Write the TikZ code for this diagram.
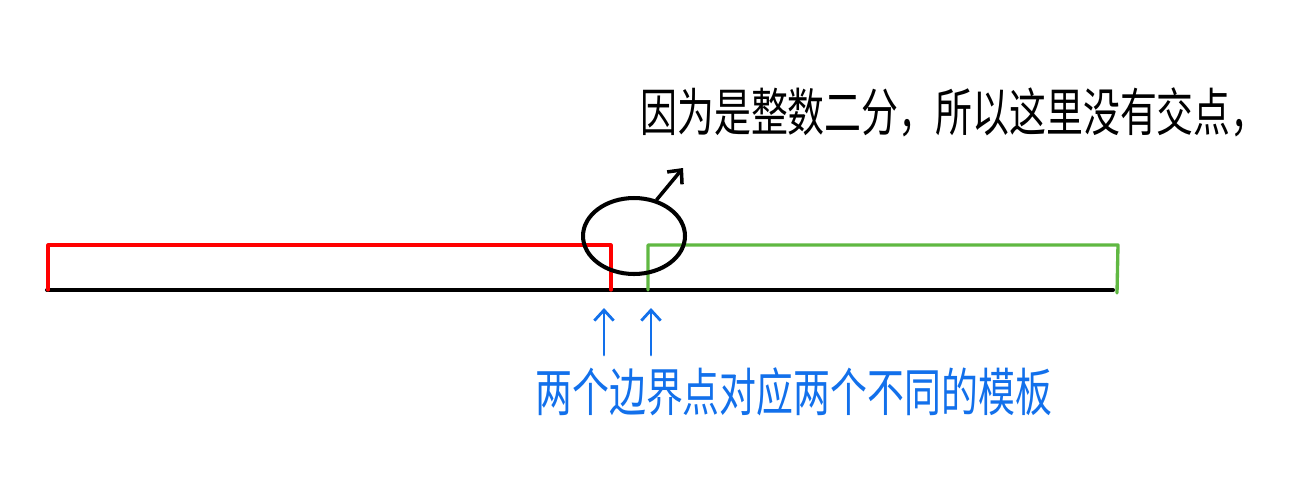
\documentclass[tikz,border=0pt]{standalone}
\usepackage{fontspec}
\newfontfamily\cjk{Noto Sans CJK SC}
\usetikzlibrary{shapes.geometric,arrows.meta}
\definecolor{mygreen}{RGB}{96,184,66}
\definecolor{myblue}{RGB}{18,112,235}
\newcommand{\tallnote}[1]{\scalebox{1}[1.4]{#1}}
\begin{document}
\begin{tikzpicture}[x=0.02cm,y=-0.02cm,line cap=round,line join=round,
  >={Straight Barb[length=6pt,width=11pt]},
  lowbox/.style={line width=1.8pt,red},
  highbox/.style={line width=1.9pt,mygreen},
  pointer/.style={->,line width=1.6pt,myblue},
  note/.style={font=\cjk\fontsize{21pt}{24pt}\selectfont,inner sep=0pt}]
\useasboundingbox (0,0) rectangle (1302,495);
%%% the number line
\coordinate (lineL) at (47,290);
\coordinate (lineR) at (1113,290);
\draw[line width=2.3pt] (lineL) -- (lineR);
%%% left template (red)
\draw[lowbox] (48,290) -- (48,245) -- (611,245) -- (611,290);
%%% right template (green)
\draw[highbox] (648,290) -- (648,245) -- (1118,245) -- (1117,293);
%%% the gap between the two templates
\node[draw,ellipse,line width=2.3pt,minimum width=2.04cm,minimum height=1.52cm,inner sep=0pt] (gap) at (634,236) {};
\coordinate (gapTip) at (683,168);
\draw[->,line width=2pt] (gap.58) -- (gapTip);
\node[note,anchor=west] (why) at (640,112) {\tallnote{因为是整数二分，所以这里没有交点，}};
%%% the two boundary points
\coordinate (redFoot) at (604,355);
\coordinate (redHead) at (604,308);
\coordinate (greenFoot) at (651,355);
\coordinate (greenHead) at (651,308);
\draw[pointer] (redFoot) -- (redHead);
\draw[pointer] (greenFoot) -- (greenHead);
\node[note,myblue,anchor=west] (two) at (535,392) {\tallnote{两个边界点对应两个不同的模板}};
\end{tikzpicture}
\end{document}
